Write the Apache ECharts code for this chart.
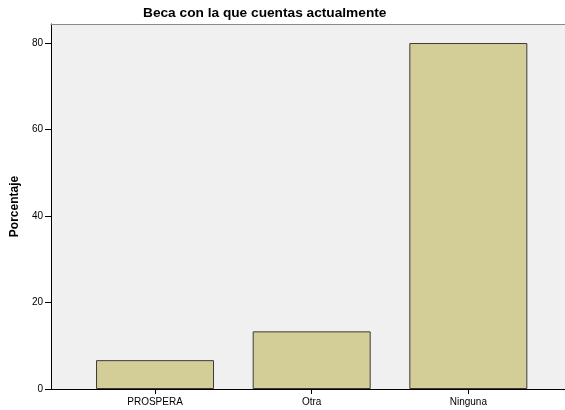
<!DOCTYPE html>
<html>
<head>
<meta charset="utf-8">
<script src="https://cdn.jsdelivr.net/npm/echarts@6/dist/echarts.min.js"></script>
<style>html,body{margin:0;padding:0;background:#fff}#c{width:565px;height:410px}</style>
</head>
<body>
<div id="c"></div>
<script>
var title = 'Beca con la que cuentas actualmente';
var yName = 'Porcentaje';
var categories = ['PROSPERA', 'Otra', 'Ninguna'];
var values = [6.67, 13.33, 80.0];
var yTicks = [0, 20, 40, 60, 80];

var positions = categories.map(function (c, i) { return i; });
var barData = categories.map(function (c, i) { return [i, values[i]]; });
var font = 'Liberation Sans, Arial, sans-serif';

var chart = echarts.init(document.getElementById('c'), null, {renderer: 'canvas'});
chart.setOption({
  animation: false,
  backgroundColor: '#ffffff',
  title: {
    text: title,
    left: 138, top: 1,
    textStyle: {fontFamily: font, fontSize: 13.7, fontWeight: 'bold', color: '#000'}
  },
  grid: {left: 51, right: -1, top: 24, bottom: 21, show: true, backgroundColor: '#f0f0f0', borderWidth: 0},
  xAxis: [{
    type: 'value', min: -0.664, max: 2.617,
    splitLine: {show: false},
    axisLine: {show: true, onZero: false, lineStyle: {color: '#000', width: 1}},
    axisTick: {show: true, customValues: positions, length: 5, lineStyle: {color: '#000'}},
    axisLabel: {show: true, customValues: positions, margin: 8, color: '#000', fontFamily: font, fontSize: 10,
      formatter: function (v) { return categories[Math.round(v)] || ''; }}
  }, {
    type: 'value', position: 'top', min: -0.664, max: 2.617,
    splitLine: {show: false},
    axisLine: {show: true, onZero: false, lineStyle: {color: '#8a8a8a', width: 1}},
    axisTick: {show: false}, axisLabel: {show: false}
  }],
  yAxis: {
    type: 'value', min: 0, max: 84.4,
    name: yName, nameLocation: 'middle', nameGap: 25,
    nameTextStyle: {fontFamily: font, fontSize: 12, fontWeight: 'bold', color: '#000'},
    splitLine: {show: false},
    axisLine: {show: true, onZero: false, lineStyle: {color: '#000', width: 1}},
    axisTick: {show: true, customValues: yTicks, length: 6, lineStyle: {color: '#000'}},
    axisLabel: {show: true, customValues: yTicks, margin: 8, color: '#000', fontFamily: font, fontSize: 10}
  },
  series: [{
    type: 'bar',
    data: barData,
    barWidth: 118,
    itemStyle: {color: '#d3ce97', borderColor: '#3a3a3a', borderWidth: 1}
  }]
});
</script>
</body>
</html>
